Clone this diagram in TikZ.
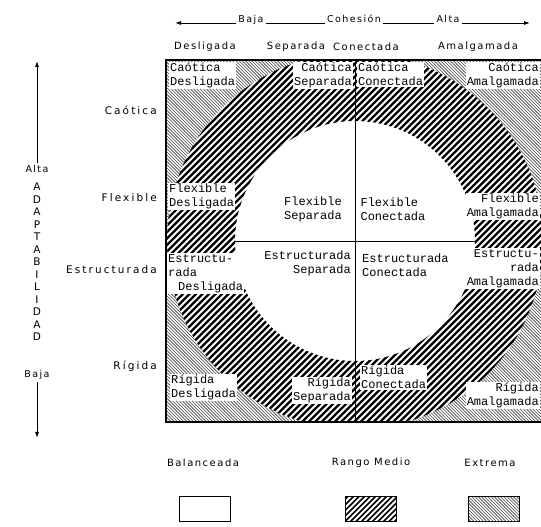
\documentclass[tikz,border=0pt]{standalone}
\usepackage{fontspec}
\newfontfamily\lblfont[LetterSpace=15]{DejaVu Sans}
\newfontfamily\rowfont[LetterSpace=20]{DejaVu Sans}
\newfontfamily\cellfont{Liberation Mono}
\usetikzlibrary{positioning, arrows.meta}

\begin{document}
\begin{tikzpicture}[
        x=1pt, y=1pt,
        cell/.style={fill=white, inner sep=1pt, align=left, font=\cellfont\fontsize{12}{14}\selectfont},
        cellr/.style={cell, align=right},
        rowlbl/.style={anchor=east, inner sep=1pt, font=\rowfont\fontsize{10.5}{12}\selectfont},
        collbl/.style={font=\lblfont\fontsize{10}{12}\selectfont},
        axlbl/.style={inner sep=2pt, font=\lblfont\fontsize{9.5}{12}\selectfont},
        axarr/.style={-{Latex[length=6pt, width=4pt]}, line width=0.9pt},
        axline/.style={line width=0.9pt},
        midhatch/.style={line width=2.2pt},
        exthatch/.style={line width=0.6pt, black!75},
        leghatch/.style={line width=1.6pt},
        legbox/.style={draw, line width=1pt, minimum width=51pt, minimum height=25pt, inner sep=0pt},
    ]
        \useasboundingbox (0,0) rectangle (541,527);
        \clip (0,0) rectangle (541,527);

        % Center of the model
        \coordinate (c) at (355,286);

        % Extreme: corners outside the outer circle
        \begin{scope}[even odd rule]
            \clip (166,105) rectangle (544,467) (c) circle (188pt);
            \foreach \k in {270,273.2,...,1012}
                \draw[exthatch] (\k-467,467) -- (\k-105,105);
        \end{scope}

        % Mid range: ring between the two circles
        \begin{scope}[even odd rule]
            \clip (166,105) rectangle (544,467);
            \clip (c) circle (188pt) (c) circle (120pt);
            \foreach \k in {-340,-333.5,...,200}
                \draw[midhatch] (100,100+\k) -- (600,600+\k);
        \end{scope}

        % Dividing lines
        \coordinate (vtop) at (355,467);
        \coordinate (vbot) at (355,105);
        \coordinate (hlft) at (235,286);
        \coordinate (hrgt) at (475,286);
        \draw[line width=1pt] (vtop) -- (vbot);
        \draw[line width=0.8pt] (hlft) -- (hrgt);
        \draw[line width=1.5pt] (166,105) rectangle (544,467);

        % Cohesion axis (top)
        \coordinate (cohl) at (175,504);
        \coordinate (cohr) at (530,504);
        \node[axlbl, anchor=base] (cbaja) at (251,504) {Baja};
        \node[axlbl, anchor=base] (ccoh) at (354,504) {Cohesión};
        \node[axlbl, anchor=base] (calta) at (448,504) {Alta};
        \draw[axarr] (cbaja.base west) -- (cohl);
        \draw[axline] (cbaja.base east) -- (ccoh.base west);
        \draw[axline] (ccoh.base east) -- (calta.base west);
        \draw[axarr] (calta.base east) -- (cohr);

        % Column headings
        \node[collbl] (hdes) at (205,480) {Desligada};
        \node[collbl] (hsep) at (296,480) {Separada};
        \node[collbl] (hcon) at (366,480) {Conectada};
        \node[collbl] (hama) at (478,480) {Amalgamada};

        % Adaptability axis (left)
        \coordinate (adtop) at (37,466);
        \coordinate (adbot) at (37,89);
        \node[axlbl] (adalta) at (37,358) {Alta};
        \node[align=center, inner sep=0pt, font=\lblfont\fontsize{10.5}{12.5}\selectfont] (adword) at (37,265)
            {A\\D\\A\\P\\T\\A\\B\\I\\L\\I\\D\\A\\D};
        \node[axlbl] (adbaja) at (37,152) {Baja};
        \draw[axarr] (adalta) -- (adtop);
        \draw[axarr] (adbaja) -- (adbot);

        % Row headings
        \node[rowlbl] (rcao) at (158,417) {Caótica};
        \node[rowlbl] (rfle) at (158,329) {Flexible};
        \node[rowlbl] (rest) at (158,257) {Estructurada};
        \node[rowlbl] (rrig) at (158,161) {Rígida};

        % Cells: Caótica
        \node[cell, anchor=north west] (caodes) at (169,465) {Caótica\\Desligada};
        \node[cellr, anchor=north east] (caosep) at (353,465) {Caótica\\Separada};
        \node[cell, anchor=north west] (caocon) at (357,465) {Caótica\\Conectada};
        \node[cellr, anchor=north east] (caoama) at (540,465) {Caótica\\Amalgamada};

        % Cells: Flexible
        \node[cell, anchor=north west] (fledes) at (168,344) {Flexible\\Desligada};
        \node[cell, fill=none] (flesep) at (313,318) {Flexible\\Separada};
        \node[cell, fill=none] (flecon) at (393,318) {Flexible\\Conectada};
        \node[cellr, anchor=north east] (fleama) at (540,334) {Flexible\\Amalgamada};

        % Cells: Estructurada
        \node[cell, anchor=north west] (estdes) at (167,274) {Estructu-\\rada\\\hspace*{10pt}Desligada};
        \node[cellr, fill=none, anchor=north east] (estsep) at (352,277) {Estructurada\\Separada};
        \node[cell, fill=none, anchor=north west] (estcon) at (361,274) {Estructurada\\Conectada};
        \node[cellr, anchor=north east] (estama) at (540,279) {Estructu-\\rada\hspace*{30pt}\\Amalgamada};

        % Cells: Rigida
        \node[cell, anchor=north west] (rigdes) at (170,153) {Rígida\\Desligada};
        \node[cellr, anchor=north east] (rigsep) at (352,150) {Rígida\\Separada};
        \node[cell, anchor=north west] (rigcon) at (360,162) {Rígida\\Conectada};
        \node[cellr, anchor=north east] (rigama) at (540,145) {Rígida\\Amalgamada};

        % Legend
        \node[collbl] (lbal) at (203,64) {Balanceada};
        \node[collbl] (lmed) at (371,64) {Rango Medio};
        \node[collbl] (lext) at (490,64) {Extrema};
        \node[legbox] (bbal) at (205,17.5) {};
        \node[legbox] (bmed) at (371,17.5) {};
        \node[legbox] (bext) at (494,17.5) {};
        \begin{scope}
            \clip ([shift={(1pt,1pt)}]bmed.south west) rectangle ([shift={(-1pt,-1pt)}]bmed.north east);
            \foreach \k in {-400,-394.5,...,-300}
                \draw[leghatch] (330,330+\k) -- (420,420+\k);
        \end{scope}
        \begin{scope}
            \clip ([shift={(1pt,1pt)}]bext.south west) rectangle ([shift={(-1pt,-1pt)}]bext.north east);
            \foreach \k in {470,473.2,...,555}
                \draw[exthatch] (\k-35,35) -- (\k,0);
        \end{scope}
    \end{tikzpicture}
\end{document}
